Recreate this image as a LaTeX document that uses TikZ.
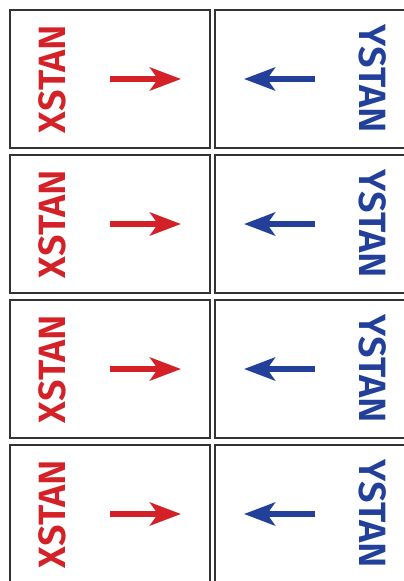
\documentclass[tikz,border=0pt]{standalone}
\usepackage{fontspec}
\setmainfont{Fira Sans}[BoldFont={* SemiBold}]
\usetikzlibrary{arrows.meta}
\definecolor{xred}{HTML}{D42027}
\definecolor{yblue}{HTML}{22409A}
\tikzset{
  card/.style={draw=black!80, line width=1.3pt, fill=white},
  xlab/.style={text=xred, font=\bfseries\fontsize{38}{38}\selectfont, rotate=90, inner sep=0pt},
  ylab/.style={text=yblue, font=\bfseries\fontsize{38}{38}\selectfont, rotate=-90, inner sep=0pt},
  xarrow/.style={draw=xred, line width=6pt, -{Stealth[length=31pt,width=23pt,inset=8pt]}},
  yarrow/.style={draw=yblue, line width=6pt, -{Stealth[length=31pt,width=23pt,inset=8pt]}}
}
\begin{document}
\begin{tikzpicture}[x=1pt,y=-1pt]
\useasboundingbox (0,0) rectangle (404,581);
\foreach \i/\y in {1/10,2/155,3/300,4/445}{
  \pgfmathsetmacro{\cy}{\y+69}
  \draw[card] (10,\y) rectangle (210,\y+138);
  \draw[card] (215,\y) rectangle (415,\y+138);
  \node[xlab] (x\i) at (52,\cy) {XSTAN};
  \node[ylab] (y\i) at (373,\cy) {YSTAN};
  \coordinate (xs\i) at (110,\cy);
  \coordinate (xe\i) at (181,\cy);
  \coordinate (ys\i) at (315,\cy);
  \coordinate (ye\i) at (244,\cy);
  \draw[xarrow] (xs\i) -- (xe\i);
  \draw[yarrow] (ys\i) -- (ye\i);
}
\end{tikzpicture}
\end{document}
